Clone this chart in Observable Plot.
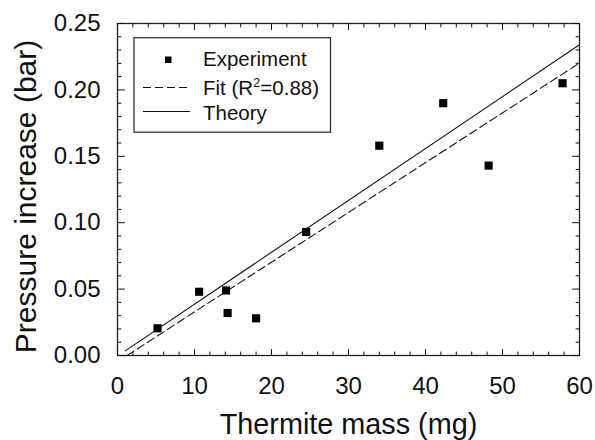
<!DOCTYPE html>
<html><head><meta charset="utf-8">
<script src="https://cdn.jsdelivr.net/npm/d3@7"></script>
<script src="https://cdn.jsdelivr.net/npm/@observablehq/plot@0.6"></script>
<style>
body{margin:0;background:#fff;}
#chart{position:relative;width:595px;height:440px;font-family:"Liberation Sans",Arial,sans-serif;}
#chart svg{font-family:"Liberation Sans",Arial,sans-serif;}
</style></head><body><div id="chart"></div>
<script>
// Experimental data
const massMg = [5.2, 10.6, 14.1, 14.3, 18.0, 24.5, 34.0, 42.3, 48.2, 57.8];
const pressureBar = [0.0205, 0.048, 0.049, 0.032, 0.028, 0.093, 0.158, 0.190, 0.143, 0.205];
// Linear fit (dashed) endpoints
const fitMass = [1.25, 60];
const fitPressure = [0, 0.2202];
// Theory (solid) endpoints
const theoryMass = [1, 60];
const theoryPressure = [0.0035, 0.234];
// Ticks
const xMajorTicks = [0, 10, 20, 30, 40, 50, 60];
const xMinorTicks = d3.range(0, 61, 2).filter(v => v % 10 !== 0);
const yMajorTicks = [0, 0.05, 0.10, 0.15, 0.20, 0.25];
const yMinorTicks = d3.range(0, 26, 1).filter(v => v % 5 !== 0).map(v => v / 100);
const legendLabels = ["Experiment", "Fit (R", "Theory"];
const xTitle = "Thermite mass (mg)";
const yTitle = "Pressure increase (bar)";

const points = massMg.map((m, i) => ({m, p: pressureBar[i]}));
const fit = fitMass.map((m, i) => ({m, p: fitPressure[i]}));
const theory = theoryMass.map((m, i) => ({m, p: theoryPressure[i]}));

const tickShape = {draw(ctx, l) { ctx.moveTo(0, 0); ctx.lineTo(0, -l); }};
function inward(ticks, len, side) {
  const base = {length: len, anchor: "start", shape: tickShape, stroke: "#111", strokeWidth: 1};
  if (side === "bottom") return Plot.vector(ticks, {...base, x: d => d, y: () => 0, rotate: 0});
  if (side === "top") return Plot.vector(ticks, {...base, x: d => d, y: () => 0.25, rotate: 180});
  if (side === "left") return Plot.vector(ticks, {...base, y: d => d, x: () => 0, rotate: 90});
  return Plot.vector(ticks, {...base, y: d => d, x: () => 60, rotate: 270});
}

const chart = Plot.plot({
  width: 595, height: 440,
  marginLeft: 117, marginRight: 16, marginTop: 23, marginBottom: 85,
  style: {fontFamily: "Liberation Sans, Arial, sans-serif", background: "#fff", color: "#111"},
  x: {domain: [0, 60]},
  y: {domain: [0, 0.25]},
  marks: [
    Plot.frame({stroke: "#222", strokeWidth: 1.3}),
    inward(xMajorTicks, 6, "bottom"), inward(xMinorTicks, 3.5, "bottom"),
    inward(xMajorTicks, 6, "top"), inward(xMinorTicks, 3.5, "top"),
    inward(yMajorTicks, 7, "left"), inward(yMinorTicks, 3.5, "left"),
    inward(yMajorTicks, 7, "right"), inward(yMinorTicks, 3.5, "right"),
    Plot.axisX(xMajorTicks, {tickSize: 0, tickPadding: 21, fontSize: 24, label: null, tickFormat: d3.format("d")}),
    Plot.axisY(yMajorTicks, {tickSize: 0, tickPadding: 17, fontSize: 24, label: null, tickFormat: d3.format(".2f")}),
    Plot.text([xTitle], {frameAnchor: "bottom", textAnchor: "middle", lineAnchor: "bottom", dy: 78, fontSize: 28.8, fill: "#111"}),
    Plot.text([yTitle], {frameAnchor: "left", textAnchor: "middle", lineAnchor: "middle", rotate: -90, dx: -91, dy: 7, fontSize: 30, fill: "#111"}),
    Plot.line(theory, {x: "m", y: "p", stroke: "#111", strokeWidth: 1.1}),
    Plot.line(fit, {x: "m", y: "p", stroke: "#111", strokeWidth: 1.1, strokeDasharray: "8,4"}),
    Plot.dot(points, {x: "m", y: "p", symbol: "square", r: 4.6, fill: "#000", stroke: "none"})
  ]
});
document.getElementById("chart").appendChild(chart);

// Legend drawn inside the SVG, top-left of the plot area
const svg = d3.select(chart);
const lg = svg.append("g").attr("font-size", 20.5).attr("fill", "#111").attr("text-anchor", "start");
lg.append("rect").attr("x", 134).attr("y", 37.7).attr("width", 196.5).attr("height", 94.5)
  .attr("fill", "#fff").attr("stroke", "#333").attr("stroke-width", 1.3);
lg.append("rect").attr("x", 165).attr("y", 56.5).attr("width", 6.5).attr("height", 6.5).attr("fill", "#000");
lg.append("line").attr("x1", 143).attr("x2", 190).attr("y1", 87.5).attr("y2", 87.5)
  .attr("stroke", "#111").attr("stroke-dasharray", "8,4");
lg.append("line").attr("x1", 143).attr("x2", 190).attr("y1", 111.5).attr("y2", 111.5)
  .attr("stroke", "#111");
lg.append("text").attr("x", 203).attr("y", 66).text(legendLabels[0]);
const t2 = lg.append("text").attr("x", 203).attr("y", 95);
t2.append("tspan").text(legendLabels[1]);
t2.append("tspan").attr("font-size", 13).attr("dy", -8).text("2");
t2.append("tspan").attr("dy", 8).text("=0.88)");
lg.append("text").attr("x", 203).attr("y", 119.5).text(legendLabels[2]);
</script>
</body></html>
